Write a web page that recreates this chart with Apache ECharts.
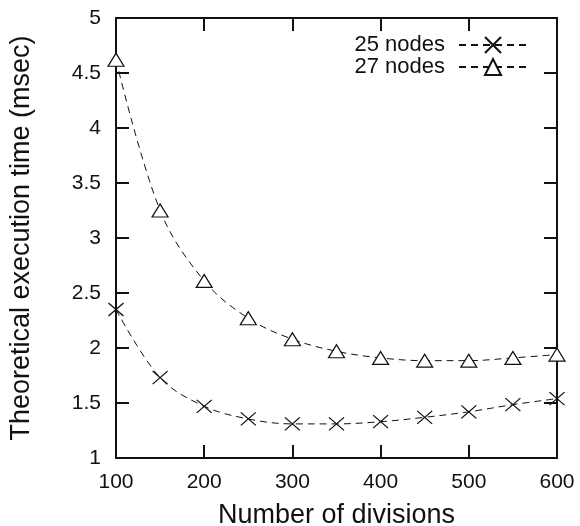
<!DOCTYPE html>
<html>
<head>
<meta charset="utf-8">
<script src="https://cdn.jsdelivr.net/npm/echarts@6/dist/echarts.min.js"></script>
<style>
  html, body { margin: 0; padding: 0; background: #fff; }
  #main { width: 580px; height: 526px; }
</style>
</head>
<body>
<div id="main"></div>
<script>
// 数据
const divisions = [100, 150, 200, 250, 300, 350, 400, 450, 500, 550, 600];
const nodes25 = [2.35, 1.73, 1.47, 1.355, 1.31, 1.31, 1.33, 1.37, 1.42, 1.485, 1.54];
const nodes27 = [4.62, 3.25, 2.61, 2.27, 2.08, 1.97, 1.91, 1.885, 1.885, 1.91, 1.94];
const xTicks = [100, 200, 300, 400, 500, 600];
const yTicks = [1, 1.5, 2, 2.5, 3, 3.5, 4, 4.5, 5];

const chart = echarts.init(document.getElementById('main'));

const font = 'Liberation Sans, Arial, Helvetica, sans-serif';
const axisLine = { show: true, lineStyle: { color: '#111', width: 2 } };
const tick = { show: true, inside: true, length: 13, lineStyle: { color: '#111', width: 2 } };
const crossPath = 'path://M0,0L10,10M10,0L0,10';
const triPath = 'path://M5,0L10,8.66L0,8.66Z';

const toPairs = ys => ys.map((v, i) => [divisions[i], v]);

const option = {
  animation: false,
  backgroundColor: '#fff',
  grid: { left: 116, right: 23, top: 18, bottom: 68, outerBoundsMode: 'none', containLabel: false },
  legend: {
    top: 29,
    right: 47,
    orient: 'vertical',
    align: 'right',
    itemWidth: 68,
    itemHeight: 20,
    itemGap: 0,
    textStyle: { fontFamily: font, fontSize: 22, color: '#111', lineHeight: 20, padding: [0, 9, 0, 0] },
    data: ['25 nodes', '27 nodes']
  },
  xAxis: [{
    type: 'value',
    min: 100, max: 600, interval: 100,
    name: 'Number of divisions',
    nameLocation: 'middle',
    nameGap: 44,
    nameTextStyle: { fontFamily: font, fontSize: 27, color: '#111' },
    axisLine: axisLine,
    axisTick: tick,
    splitLine: { show: false },
    axisLabel: {
      fontFamily: font, fontSize: 21, color: '#111', margin: 14,
      formatter: v => xTicks.includes(v) ? String(v) : ''
    }
  }, {
    type: 'value', position: 'top',
    min: 100, max: 600, interval: 100,
    axisLine: axisLine, axisTick: tick,
    axisLabel: { show: false }, splitLine: { show: false }
  }],
  yAxis: [{
    type: 'value',
    min: 1, max: 5, interval: 0.5,
    name: 'Theoretical execution time (msec)',
    nameLocation: 'middle',
    nameGap: 81,
    nameTextStyle: { fontFamily: font, fontSize: 27, color: '#111' },
    axisLine: axisLine,
    axisTick: tick,
    splitLine: { show: false },
    axisLabel: {
      fontFamily: font, fontSize: 21, color: '#111', margin: 15,
      formatter: v => yTicks.includes(v) ? String(v) : ''
    }
  }, {
    type: 'value', position: 'right',
    min: 1, max: 5, interval: 0.5,
    axisLine: axisLine, axisTick: tick,
    axisLabel: { show: false }, splitLine: { show: false }
  }],
  series: [{
    name: '25 nodes',
    type: 'line',
    smooth: 0.35,
    data: toPairs(nodes25),
    symbol: crossPath,
    symbolSize: [15, 13],
    lineStyle: { color: '#111', width: 1, type: [7, 5] },
    itemStyle: { color: 'none', borderColor: '#111', borderWidth: 1.2 }
  }, {
    name: '27 nodes',
    type: 'line',
    smooth: 0.35,
    data: toPairs(nodes27),
    symbol: triPath,
    symbolSize: [16, 13],
    lineStyle: { color: '#111', width: 1, type: [7, 5] },
    itemStyle: { color: '#fff', borderColor: '#111', borderWidth: 1.2 }
  }]
};

chart.setOption(option);
</script>
</body>
</html>
